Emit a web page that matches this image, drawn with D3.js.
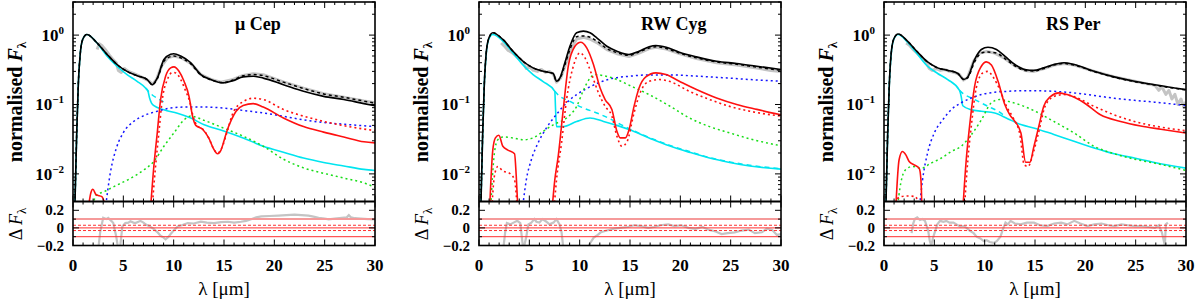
<!DOCTYPE html>
<html>
<head>
<meta charset="utf-8">
<script src="https://cdn.jsdelivr.net/npm/d3@7"></script>
<style>
  body { margin: 0; background: #fff; }
  svg { display: block; }
</style>
</head>
<body>
<div id="chart"></div>
<script>
const width = 1200;
const height = 302;

// ---- data (wavelength in micron, normalised flux) ----
const panelNames = ["μ Cep", "RW Cyg", "RS Per"];
const xTicks = [0, 5, 10, 15, 20, 25, 30];
const yTicks = [1, 0.1, 0.01];
const yTickExp = ["0", "−1", "−2"];
const residTicks = [0.2, 0, -0.2];
const residLevels = [0.1, 0.03, 0, -0.03, -0.1];

// mu Cep
const muCepObs = [[2.4,0.62],[2.6,0.75],[2.9,0.7],[3.2,0.62],[3.6,0.52],[4.0,0.44],[4.3,0.4],[4.5,0.31],[4.8,0.29],[5.1,0.33],[5.5,0.3],[6.0,0.28],[6.5,0.26],[7.0,0.24],[7.5,0.22],[7.9,0.195],[8.3,0.23],[8.8,0.36],[9.4,0.47],[10.0,0.5],[10.8,0.47],[11.7,0.39],[12.7,0.27],[13.7,0.23],[14.7,0.21],[15.9,0.23],[16.9,0.262],[17.9,0.278],[18.9,0.268],[20.9,0.212],[22.9,0.172],[24.9,0.143],[26.9,0.127],[28.9,0.112],[30,0.106]];
const muCepTotal = [[0.15,0.002],[0.2,0.004],[0.37,0.039],[0.53,0.2],[0.7,0.5],[0.97,0.87],[1.37,1.02],[2.37,0.775],[3.37,0.53],[4.37,0.377],[5.37,0.3],[6.37,0.26],[7.37,0.229],[7.87,0.193],[8.37,0.24],[9.03,0.445],[9.7,0.53],[10.0,0.54],[10.7,0.5],[11.7,0.4],[12.7,0.27],[13.7,0.229],[14.9,0.205],[15.9,0.22],[16.9,0.25],[17.9,0.255],[18.9,0.24],[20.9,0.193],[22.9,0.155],[24.9,0.131],[26.9,0.118],[28.9,0.103],[30,0.096]];
const muCepTotalAlt = [[0.15,0.002],[0.2,0.004],[0.37,0.039],[0.53,0.2],[0.7,0.5],[0.97,0.87],[1.37,1.02],[2.37,0.775],[3.37,0.53],[4.37,0.377],[5.37,0.3],[6.37,0.26],[7.37,0.229],[7.87,0.193],[8.37,0.235],[9.03,0.42],[9.7,0.49],[10.0,0.5],[10.7,0.47],[11.7,0.385],[12.7,0.265],[13.7,0.227],[14.9,0.207],[15.9,0.225],[16.9,0.26],[17.9,0.27],[18.9,0.26],[20.9,0.21],[22.9,0.17],[24.9,0.142],[26.9,0.127],[28.9,0.112],[30,0.105]];
const muCepStar = [[0.15,0.002],[0.2,0.004],[0.37,0.039],[0.53,0.2],[0.7,0.5],[0.97,0.87],[1.37,1.02],[2.37,0.775],[3.37,0.5],[4.37,0.356],[5.37,0.27],[6.37,0.216],[7.2,0.173],[7.45,0.155],[7.6,0.125],[7.8,0.105],[8.0,0.097],[9.03,0.084],[10.37,0.075],[11.7,0.064],[13.03,0.051],[14.9,0.042],[16.9,0.033],[18.9,0.025],[20.9,0.0205],[22.9,0.0169],[24.9,0.0146],[26.9,0.013],[28.9,0.0116],[30,0.0112]];
const muCepStarAlt = [[7.2,0.173],[7.9,0.136],[8.5,0.12],[9.2,0.105]];
const muCepWarm = [[3.2,0.003],[3.7,0.0102],[4.37,0.025],[5.03,0.04],[6.03,0.057],[7.03,0.069],[8.37,0.08],[9.7,0.089],[11.37,0.092],[13.03,0.092],[14.9,0.089],[16.9,0.082],[18.9,0.0755],[20.9,0.0676],[22.9,0.06],[24.9,0.055],[26.9,0.052],[30,0.048]];
const muCepCool = [[1.8,0.003],[2.37,0.005],[3.03,0.0055],[4.37,0.0069],[5.7,0.0086],[7.03,0.0114],[8.03,0.0151],[9.03,0.025],[10.03,0.039],[11.03,0.06],[11.7,0.068],[13.03,0.059],[14.9,0.046],[16.9,0.035],[18.9,0.025],[20.9,0.0163],[22.9,0.0122],[24.9,0.0102],[26.9,0.0087],[28.9,0.0074],[30,0.0064]];
const muCepSil = [[1.5,0.003],[1.77,0.0053],[1.97,0.006],[2.3,0.005],[2.87,0.0047],[3.2,0.0035],null,[7.6,0.002],[8.03,0.0128],[8.37,0.039],[8.7,0.118],[9.2,0.255],[9.7,0.337],[10.03,0.349],[10.53,0.302],[11.03,0.216],[11.53,0.13],[11.87,0.068],[12.2,0.05],[12.87,0.044],[13.53,0.032],[13.9,0.024],[14.37,0.0195],[14.7,0.022],[15.0,0.03],[15.23,0.039],[15.73,0.06],[16.2,0.08],[16.9,0.097],[17.9,0.103],[18.9,0.092],[20.9,0.064],[22.9,0.048],[24.9,0.04],[26.9,0.034],[28.9,0.029],[30,0.028]];
const muCepSilAlt = [[7.75,0.002],[8.2,0.0128],[8.53,0.039],[8.87,0.118],[9.37,0.228],[9.87,0.29],[10.2,0.285],[10.7,0.229],[11.2,0.155],[11.6,0.11],[11.95,0.066],[12.3,0.05],[12.9,0.044],[13.53,0.032],[13.9,0.024],[14.37,0.02],[14.8,0.024],[15.3,0.04],[15.9,0.076],[16.9,0.11],[17.9,0.123],[18.9,0.118],[20.9,0.0847],[22.9,0.068],[24.9,0.057],[26.9,0.0495],[30,0.042]];
const muCepResid = [[2.5,-0.25],[2.7,-0.05],[3.0,0.114],[3.3,0.1],[3.5,0.114],[3.8,0.08],[4.0,0.055],[4.3,-0.1],[4.5,-0.25],[4.7,-0.2],[4.9,0.016],[5.2,0.055],[5.5,0.06],[5.7,0.075],[6.0,0.06],[6.2,0.055],[6.5,0.07],[6.7,0.08],[7.0,0.06],[7.2,0.04],[7.6,0.02],[8.0,-0.01],[8.4,-0.05],[8.7,-0.09],[9.0,-0.11],[9.2,-0.13],[9.5,-0.1],[9.7,-0.07],[10.0,-0.03],[10.4,0.016],[10.8,0.03],[11.4,0.055],[12.0,0.05],[12.7,0.07],[13.3,0.06],[14.0,0.055],[14.7,0.065],[15.4,0.07],[16.0,0.06],[16.7,0.07],[17.2,0.08],[17.7,0.098],[18.2,0.12],[18.7,0.13],[19.5,0.135],[20.4,0.14],[21.2,0.145],[22.0,0.15],[22.7,0.145],[23.4,0.14],[24.0,0.125],[24.4,0.114],[25.0,0.105],[25.4,0.098],[26.0,0.105],[26.7,0.114],[27.2,0.12],[27.4,0.145],[27.6,0.12],[28.0,0.11],[28.6,0.105],[29.3,0.1],[30,0.098]];

// RW Cyg
const rwCygObs = [[2.2,0.77],[2.5,0.7],[2.9,0.6],[3.3,0.56],[3.8,0.48],[4.3,0.42],[4.7,0.33],[5.0,0.35],[5.4,0.31],[5.8,0.3],[6.2,0.32],[6.6,0.29],[7.0,0.3],[7.4,0.27],[7.7,0.21],[8.1,0.24],[8.6,0.38],[9.1,0.62],[9.7,0.88],[10.4,0.93],[11.0,0.88],[11.7,0.78],[12.7,0.62],[13.7,0.54],[14.9,0.49],[15.9,0.55],[16.9,0.64],[17.6,0.67],[18.6,0.63],[19.9,0.54],[21.6,0.46],[23.6,0.4],[25.6,0.37],[27.6,0.335],[29,0.31],[30,0.3]];
const rwCygTotal = [[0.15,0.002],[0.2,0.004],[0.37,0.04],[0.53,0.2],[0.7,0.52],[0.97,0.9],[1.37,1.08],[2.37,0.866],[3.37,0.587],[4.37,0.42],[5.37,0.337],[6.37,0.302],[7.37,0.28],[7.7,0.216],[8.03,0.24],[8.53,0.4],[9.03,0.69],[9.7,1.08],[10.37,1.14],[11.03,1.08],[11.7,0.915],[12.7,0.69],[13.7,0.587],[14.9,0.525],[15.9,0.587],[16.9,0.68],[17.57,0.71],[18.6,0.67],[19.9,0.568],[21.6,0.486],[23.6,0.42],[25.6,0.39],[27.6,0.356],[30,0.32]];
const rwCygTotalAlt = [[0.15,0.002],[0.2,0.004],[0.37,0.04],[0.53,0.2],[0.7,0.52],[0.97,0.9],[1.37,1.08],[2.37,0.866],[3.37,0.587],[4.37,0.42],[5.37,0.337],[6.37,0.302],[7.37,0.28],[7.7,0.216],[8.03,0.235],[8.53,0.37],[9.03,0.62],[9.7,0.95],[10.37,0.97],[11.03,0.93],[11.7,0.82],[12.7,0.64],[13.7,0.56],[14.9,0.51],[15.9,0.57],[16.9,0.65],[17.57,0.68],[18.6,0.64],[19.9,0.55],[21.6,0.47],[23.6,0.41],[25.6,0.38],[27.6,0.345],[30,0.31]];
const rwCygStar = [[0.15,0.002],[0.2,0.004],[0.37,0.04],[0.53,0.2],[0.7,0.5],[0.97,0.87],[1.37,1.02],[2.37,0.82],[3.37,0.555],[4.37,0.37],[5.37,0.27],[6.37,0.214],[7.53,0.155],[7.6,0.09],[7.7,0.048],[8.37,0.048],[9.7,0.057],[11.03,0.064],[12.37,0.057],[13.7,0.05],[14.9,0.0435],[16.9,0.033],[18.9,0.0254],[20.9,0.0205],[22.9,0.0169],[24.9,0.0146],[26.9,0.013],[30,0.0117]];
const rwCygStarAlt = [[7.53,0.155],[7.87,0.137],[9.03,0.111],[10.37,0.089],[11.7,0.0755],[13.03,0.062],[14.0,0.052],[14.9,0.045],[16.9,0.0335],[18.9,0.026],[20.9,0.021],[22.9,0.0172],[24.9,0.0149],[26.9,0.0133],[30,0.0119]];
const rwCygWarm = [[4.3,0.003],[4.7,0.0082],[5.2,0.016],[5.87,0.028],[6.7,0.046],[7.7,0.072],[8.7,0.106],[9.7,0.139],[10.7,0.17],[11.7,0.2],[13.03,0.234],[14.9,0.255],[16.9,0.267],[18.9,0.267],[20.9,0.26],[22.9,0.25],[24.9,0.24],[26.9,0.229],[30,0.216]];
const rwCygCool = [[1.15,0.003],[1.53,0.02],[1.87,0.031],[2.37,0.034],[3.37,0.033],[4.37,0.031],[5.37,0.033],[6.37,0.041],[7.37,0.051],[8.7,0.064],[9.7,0.094],[10.37,0.16],[11.03,0.24],[11.53,0.27],[12.37,0.26],[13.7,0.229],[14.9,0.19],[16.9,0.139],[18.9,0.096],[20.9,0.064],[22.9,0.048],[24.9,0.039],[26.9,0.032],[30,0.0254]];
const rwCygSil = [[1.0,0.002],[1.37,0.022],[1.63,0.033],[1.97,0.036],[2.37,0.025],[2.87,0.022],[3.53,0.0195],[3.7,0.0093],[3.87,0.003],null,[7.15,0.002],[7.53,0.0082],[7.87,0.018],[8.37,0.085],[8.87,0.356],[9.53,0.69],[10.1,0.79],[10.7,0.656],[11.37,0.377],[12.03,0.173],[12.53,0.118],[13.2,0.085],[13.7,0.041],[14.03,0.033],[14.53,0.033],[14.9,0.043],[15.4,0.094],[15.9,0.173],[16.57,0.25],[17.57,0.286],[18.57,0.27],[19.9,0.216],[21.6,0.164],[23.6,0.124],[25.6,0.1],[27.6,0.085],[30,0.071]];
const rwCygSilAlt = [[1.2,0.002],[1.53,0.0093],[1.87,0.0128],[2.37,0.011],[3.03,0.0102],[3.53,0.0082],[3.87,0.002],null,[7.35,0.002],[7.7,0.0082],[8.2,0.028],[8.7,0.118],[9.37,0.356],[10.03,0.556],[10.53,0.47],[11.2,0.27],[11.87,0.147],[12.53,0.094],[13.2,0.068],[13.7,0.035],[14.2,0.025],[14.7,0.029],[15.4,0.0755],[16.07,0.155],[16.9,0.216],[17.9,0.229],[18.9,0.216],[20.9,0.155],[22.9,0.118],[24.9,0.094],[26.9,0.08],[30,0.068]];
const rwCygResid = [[2.4,-0.25],[2.6,-0.05],[2.77,0.055],[3.1,0.04],[3.43,0.06],[3.8,0.08],[4.1,0.055],[4.25,-0.1],[4.4,-0.25],[4.7,-0.1],[4.9,0.04],[5.2,0.06],[5.5,0.1],[5.7,0.07],[6.0,0.06],[6.3,0.1],[6.7,0.07],[7.0,0.04],[7.4,0.06],[7.7,0.1],[8.0,0.04],[8.2,-0.05],[8.4,-0.25],null,[10.7,-0.25],[11.0,-0.18],[11.4,-0.11],[11.8,-0.08],[12.1,-0.05],[12.7,-0.03],[13.4,-0.01],[14.0,0.0],[14.8,0.01],[15.4,0.03],[16.1,0.02],[16.8,0.0],[17.4,0.01],[18.0,0.03],[18.8,0.04],[19.4,0.02],[20.1,0.03],[20.8,0.0],[21.5,-0.01],[22.2,0.01],[22.8,-0.02],[23.5,-0.04],[24.1,-0.07],[24.7,-0.06],[25.4,-0.05],[26.1,-0.03],[26.8,-0.02],[27.4,-0.06],[28.1,-0.05],[28.6,-0.01],[29.1,-0.02],[29.6,-0.08],[30,-0.07]];

// RS Per
const rsPerObs = [[2.2,0.77],[2.5,0.72],[2.9,0.62],[3.3,0.55],[3.8,0.47],[4.2,0.4],[4.5,0.33],[4.8,0.31],[5.2,0.33],[5.6,0.31],[6.0,0.32],[6.5,0.3],[7.0,0.29],[7.5,0.27],[7.9,0.225],[8.3,0.245],[8.9,0.42],[9.5,0.55],[10.2,0.58],[11.0,0.55],[12.0,0.46],[13.0,0.36],[14.0,0.31],[14.9,0.3],[15.9,0.33],[16.9,0.37],[17.9,0.39],[18.9,0.37],[20.9,0.3],[22.9,0.25],[24.9,0.216],[26.0,0.2],[26.9,0.19],[27.3,0.16],[27.6,0.18],[28.0,0.14],[28.3,0.16],[28.6,0.12],[28.9,0.14],[29.2,0.1],[29.5,0.12],[29.8,0.09],[30,0.11]];
const rsPerTotal = [[0.15,0.002],[0.2,0.004],[0.37,0.04],[0.53,0.2],[0.7,0.52],[0.97,0.88],[1.4,1.04],[2.33,0.82],[3.33,0.57],[4.33,0.41],[5.33,0.337],[6.33,0.31],[7.33,0.28],[7.93,0.229],[8.33,0.25],[9.0,0.445],[9.67,0.62],[10.33,0.67],[11.17,0.62],[12.0,0.497],[13.0,0.377],[14.0,0.319],[14.87,0.31],[15.87,0.337],[16.87,0.377],[17.87,0.4],[18.87,0.377],[20.87,0.302],[22.87,0.25],[24.87,0.216],[26.87,0.193],[28.87,0.173],[30,0.164]];
const rsPerTotalAlt = [[0.15,0.002],[0.2,0.004],[0.37,0.04],[0.53,0.2],[0.7,0.52],[0.97,0.88],[1.4,1.04],[2.33,0.82],[3.33,0.57],[4.33,0.41],[5.33,0.337],[6.33,0.31],[7.33,0.28],[7.93,0.229],[8.33,0.245],[9.0,0.41],[9.67,0.55],[10.33,0.57],[11.17,0.55],[12.0,0.46],[13.0,0.36],[14.0,0.31],[14.87,0.305],[15.87,0.33],[16.87,0.37],[17.87,0.39],[18.87,0.37],[20.87,0.298],[22.87,0.247],[24.87,0.214],[26.87,0.191],[28.87,0.171],[30,0.162]];
const rsPerStar = [[0.15,0.002],[0.2,0.004],[0.37,0.04],[0.53,0.2],[0.7,0.5],[0.97,0.87],[1.4,1.02],[2.33,0.79],[3.33,0.53],[4.33,0.356],[5.33,0.28],[6.33,0.229],[7.5,0.16],[7.67,0.13],[7.83,0.096],[8.67,0.084],[9.67,0.08],[11.0,0.0755],[12.33,0.062],[13.67,0.051],[14.87,0.046],[16.87,0.037],[18.87,0.0295],[20.87,0.0237],[22.87,0.0195],[24.87,0.0169],[26.87,0.0146],[30,0.0121]];
const rsPerStarAlt = [[7.5,0.16],[7.83,0.145],[9.0,0.118],[10.33,0.094],[11.33,0.08],[12.0,0.068]];
const rsPerWarm = [[3.5,0.003],[3.83,0.0082],[4.33,0.02],[5.0,0.039],[5.83,0.06],[6.67,0.084],[7.67,0.106],[8.67,0.124],[9.67,0.139],[11.0,0.15],[12.33,0.155],[13.67,0.158],[14.87,0.158],[16.87,0.155],[18.87,0.147],[20.87,0.135],[22.87,0.123],[24.87,0.115],[26.87,0.108],[30,0.0967]];
const rsPerCool = [[1.3,0.003],[1.67,0.0074],[2.17,0.0116],[2.83,0.0128],[3.67,0.012],[4.67,0.0143],[5.67,0.0168],[6.67,0.021],[7.67,0.025],[8.67,0.0366],[9.67,0.06],[10.67,0.106],[11.5,0.118],[12.33,0.111],[13.67,0.097],[14.87,0.082],[16.87,0.057],[18.87,0.039],[20.87,0.025],[22.87,0.0195],[24.87,0.0163],[26.87,0.0143],[30,0.0112]];
const rsPerSil = [[1.1,0.002],[1.5,0.016],[1.83,0.021],[2.17,0.0188],[2.5,0.0151],[3.0,0.0135],[3.5,0.012],[3.67,0.0082],[3.8,0.002],null,[7.75,0.002],[8.17,0.016],[8.5,0.0484],[9.0,0.183],[9.67,0.356],[10.17,0.412],[10.67,0.37],[11.33,0.216],[12.0,0.1],[12.5,0.071],[13.0,0.057],[13.6,0.0388],[14.07,0.0147],[14.5,0.0147],[14.87,0.024],[15.37,0.048],[15.87,0.094],[16.53,0.13],[17.37,0.147],[18.2,0.139],[19.87,0.106],[21.5,0.071],[23.5,0.057],[25.5,0.049],[27.5,0.044],[30,0.0388]];
const rsPerSilAlt = [[1.3,0.0044],[1.67,0.0047],[2.33,0.0048],[3.17,0.0047],[3.5,0.002],null,[7.9,0.002],[8.33,0.016],[8.67,0.0484],[9.17,0.175],[9.83,0.286],[10.33,0.3],[10.83,0.25],[11.5,0.164],[12.17,0.094],[12.83,0.064],[13.5,0.037],[13.93,0.0135],[14.33,0.0128],[14.67,0.0168],[14.87,0.021],[15.37,0.04],[16.0,0.094],[16.87,0.13],[17.87,0.139],[18.87,0.13],[20.87,0.094],[22.87,0.071],[24.87,0.057],[26.87,0.049],[30,0.042]];
const rsPerResid = [[2.74,-0.06],[2.9,0.05],[3.07,0.103],[3.3,0.12],[3.57,0.09],[3.8,0.1],[4.07,0.08],[4.25,0.02],[4.4,-0.04],[4.55,-0.15],[4.7,-0.2],[4.85,-0.12],[5.07,-0.04],[5.3,0.04],[5.57,0.08],[5.9,0.07],[6.2,0.08],[6.5,0.06],[6.9,0.06],[7.2,0.04],[7.57,0.015],[7.9,0.02],[8.2,0.0],[8.5,-0.03],[8.9,-0.06],[9.2,-0.1],[9.57,-0.12],[9.9,-0.15],[10.2,-0.14],[10.5,-0.16],[10.9,-0.17],[11.2,-0.15],[11.57,-0.1],[11.8,-0.02],[12.07,0.06],[12.3,0.04],[12.57,0.08],[13.0,0.05],[13.57,0.04],[14.2,0.06],[14.9,0.06],[15.5,0.03],[16.2,0.02],[16.9,0.05],[17.6,0.06],[18.2,0.04],[18.9,0.08],[19.5,0.05],[20.2,0.02],[20.9,0.04],[21.6,0.05],[22.3,0.03],[22.9,0.02],[23.6,0.04],[24.2,0.03],[24.9,0.02],[25.6,0.02],[26.3,0.01],[26.9,0.0],[27.3,0.03],[27.6,-0.05],[27.8,-0.15],[27.9,-0.2],[28.0,0.04],[28.2,0.06]];

const panels = [
  {obs: muCepObs, total: muCepTotal, totalAlt: muCepTotalAlt, star: muCepStar, starAlt: muCepStarAlt, warm: muCepWarm, cool: muCepCool, sil: muCepSil, silAlt: muCepSilAlt, resid: muCepResid},
  {obs: rwCygObs, total: rwCygTotal, totalAlt: rwCygTotalAlt, star: rwCygStar, starAlt: rwCygStarAlt, warm: rwCygWarm, cool: rwCygCool, sil: rwCygSil, silAlt: rwCygSilAlt, resid: rwCygResid},
  {obs: rsPerObs, total: rsPerTotal, totalAlt: rsPerTotalAlt, star: rsPerStar, starAlt: rsPerStarAlt, warm: rsPerWarm, cool: rsPerCool, sil: rsPerSil, silAlt: rsPerSilAlt, resid: rsPerResid}
];

// ---- layout ----
const panelLefts = [73, 479, 884];
const panelW = 302;
const mainTop = 2, mainBottom = 201.5, residBottom = 245.5;
const serif = "'Liberation Serif', 'Times New Roman', serif";

const svg = d3.select("#chart")
  .append("svg")
  .attr("width", width)
  .attr("height", height)
  .attr("font-family", serif);

function drawPanel(i, d) {
  const left = panelLefts[i];
  const right = left + panelW;
  const g = svg.append("g");

  const x = d3.scaleLinear().domain([0, 30]).range([left, right]);
  const y = d3.scaleLog().domain([0.004, 3]).range([mainBottom, mainTop]);
  const yr = d3.scaleLinear().domain([-0.2, 0.3]).range([residBottom, mainBottom]);

  const defs = svg.append("defs");
  defs.append("clipPath").attr("id", "clipMain" + i)
    .append("rect").attr("x", left).attr("y", mainTop)
    .attr("width", panelW).attr("height", mainBottom - mainTop);
  defs.append("clipPath").attr("id", "clipRes" + i)
    .append("rect").attr("x", left).attr("y", mainBottom)
    .attr("width", panelW).attr("height", residBottom - mainBottom);

  const line = d3.line()
    .defined(p => p !== null)
    .x(p => x(p[0]))
    .y(p => y(Math.max(p[1], 1e-4)));

  const gm = g.append("g").attr("clip-path", `url(#clipMain${i})`);
  const series = [
    [d.obs, "#c4c4c4", 3, null, d3.curveLinear],
    [d.starAlt, "#00e5f0", 1.5, "5,4"],
    [d.star, "#00e5f0", 1.6, null],
    [d.warm, "#1515ff", 1.5, "2,3"],
    [d.cool, "#18dd18", 1.5, "2,3"],
    [d.silAlt, "#ff1010", 1.6, "2,3"],
    [d.sil, "#ff1010", 1.6, null],
    [d.total, "#000", 1.6, null],
    [d.totalAlt, "#000", 1.5, "3,3"]
  ];
  series.forEach(s => {
    line.curve(s[4] || d3.curveMonotoneX);
    gm.append("path")
      .attr("d", line(s[0]))
      .attr("fill", "none")
      .attr("stroke", s[1])
      .attr("stroke-width", s[2])
      .attr("stroke-dasharray", s[3])
      .attr("stroke-linejoin", "round");
  });

  // residual panel
  const gr = g.append("g").attr("clip-path", `url(#clipRes${i})`);
  const resLine = d3.line()
    .defined(p => p !== null)
    .x(p => x(p[0]))
    .y(p => yr(p[1]));
  gr.append("path")
    .attr("d", resLine(d.resid))
    .attr("fill", "none")
    .attr("stroke", "#c4c4c4")
    .attr("stroke-width", 2.2);
  residLevels.forEach(v => {
    gr.append("line")
      .attr("x1", left).attr("x2", right)
      .attr("y1", yr(v)).attr("y2", yr(v))
      .attr("stroke", v === 0.1 ? "#f59a9a" : "#ff3030")
      .attr("stroke-width", v === 0.1 ? 2 : 1)
      .attr("stroke-dasharray", Math.abs(v) === 0.03 ? "3,2" : null);
  });

  // ticks
  const tk = g.append("g").attr("stroke", "#000").attr("stroke-width", 1);
  d3.range(0, 31, 1).forEach(v => {
    const len = v % 5 === 0 ? 6 : 3;
    const xx = x(v);
    [[mainBottom, -1], [mainTop, 1], [mainBottom, 1], [residBottom, -1]].forEach(([y0, dir]) => {
      tk.append("line").attr("x1", xx).attr("x2", xx)
        .attr("y1", y0).attr("y2", y0 + dir * len);
    });
  });
  [-3, -2, -1, 0].forEach(e => {
    d3.range(1, 10).forEach(k => {
      const v = k * Math.pow(10, e);
      if (v < 0.004 || v > 3) return;
      const yy = y(v);
      const len = k === 1 ? 6 : 3;
      tk.append("line").attr("x1", left).attr("x2", left + len).attr("y1", yy).attr("y2", yy);
      tk.append("line").attr("x1", right).attr("x2", right - len).attr("y1", yy).attr("y2", yy);
    });
  });
  [-0.2, -0.1, 0, 0.1, 0.2].forEach(v => {
    const len = Math.abs(v * 10) % 2 === 0 ? 6 : 3;
    tk.append("line").attr("x1", left).attr("x2", left + len).attr("y1", yr(v)).attr("y2", yr(v));
    tk.append("line").attr("x1", right).attr("x2", right - len).attr("y1", yr(v)).attr("y2", yr(v));
  });

  // frames
  g.append("rect")
    .attr("x", left).attr("y", mainTop)
    .attr("width", panelW).attr("height", residBottom - mainTop)
    .attr("fill", "none").attr("stroke", "#000").attr("stroke-width", 1.6);
  g.append("line")
    .attr("x1", left).attr("x2", right)
    .attr("y1", mainBottom).attr("y2", mainBottom)
    .attr("stroke", "#000").attr("stroke-width", 2);

  // tick labels
  xTicks.forEach(v => {
    g.append("text")
      .attr("x", x(v)).attr("y", 271)
      .attr("text-anchor", "middle")
      .attr("font-size", 17).attr("font-weight", "bold")
      .text(v);
  });
  yTicks.forEach((v, j) => {
    const t = g.append("text")
      .attr("x", left - 9).attr("y", y(v) + 6)
      .attr("text-anchor", "end")
      .attr("font-size", 17).attr("font-weight", "bold");
    t.append("tspan").text("10");
    t.append("tspan").attr("dy", -7).attr("font-size", 11).text(yTickExp[j]);
  });
  residTicks.forEach(v => {
    g.append("text")
      .attr("x", left - 9).attr("y", yr(v) + 5)
      .attr("text-anchor", "end")
      .attr("font-size", 15).attr("font-weight", "bold")
      .text(v === 0 ? "0" : d3.format(".1f")(v).replace("-", "−"));
  });

  // axis titles
  const yl = g.append("text")
    .attr("transform", `translate(${left - 51},${102}) rotate(-90)`)
    .attr("text-anchor", "middle")
    .attr("font-size", 20).attr("font-weight", "bold");
  yl.append("tspan").text("normalised ");
  yl.append("tspan").attr("font-style", "italic").text("F");
  yl.append("tspan").attr("font-size", 13).attr("dy", 4).text("λ");

  const rl = g.append("text")
    .attr("transform", `translate(${left - 51},${224}) rotate(-90)`)
    .attr("text-anchor", "middle")
    .attr("font-size", 18);
  rl.append("tspan").text("Δ ");
  rl.append("tspan").attr("font-style", "italic").text("F");
  rl.append("tspan").attr("font-size", 13).attr("dy", 4).text("λ");

  g.append("text")
    .attr("x", (left + right) / 2).attr("y", 295)
    .attr("text-anchor", "middle")
    .attr("font-size", 19)
    .text("λ [μm]");

  g.append("text")
    .attr("x", left + 162).attr("y", 30)
    .attr("font-size", 18).attr("font-weight", "bold")
    .text(panelNames[i]);
}

panels.forEach((d, i) => drawPanel(i, d));
</script>
</body>
</html>
